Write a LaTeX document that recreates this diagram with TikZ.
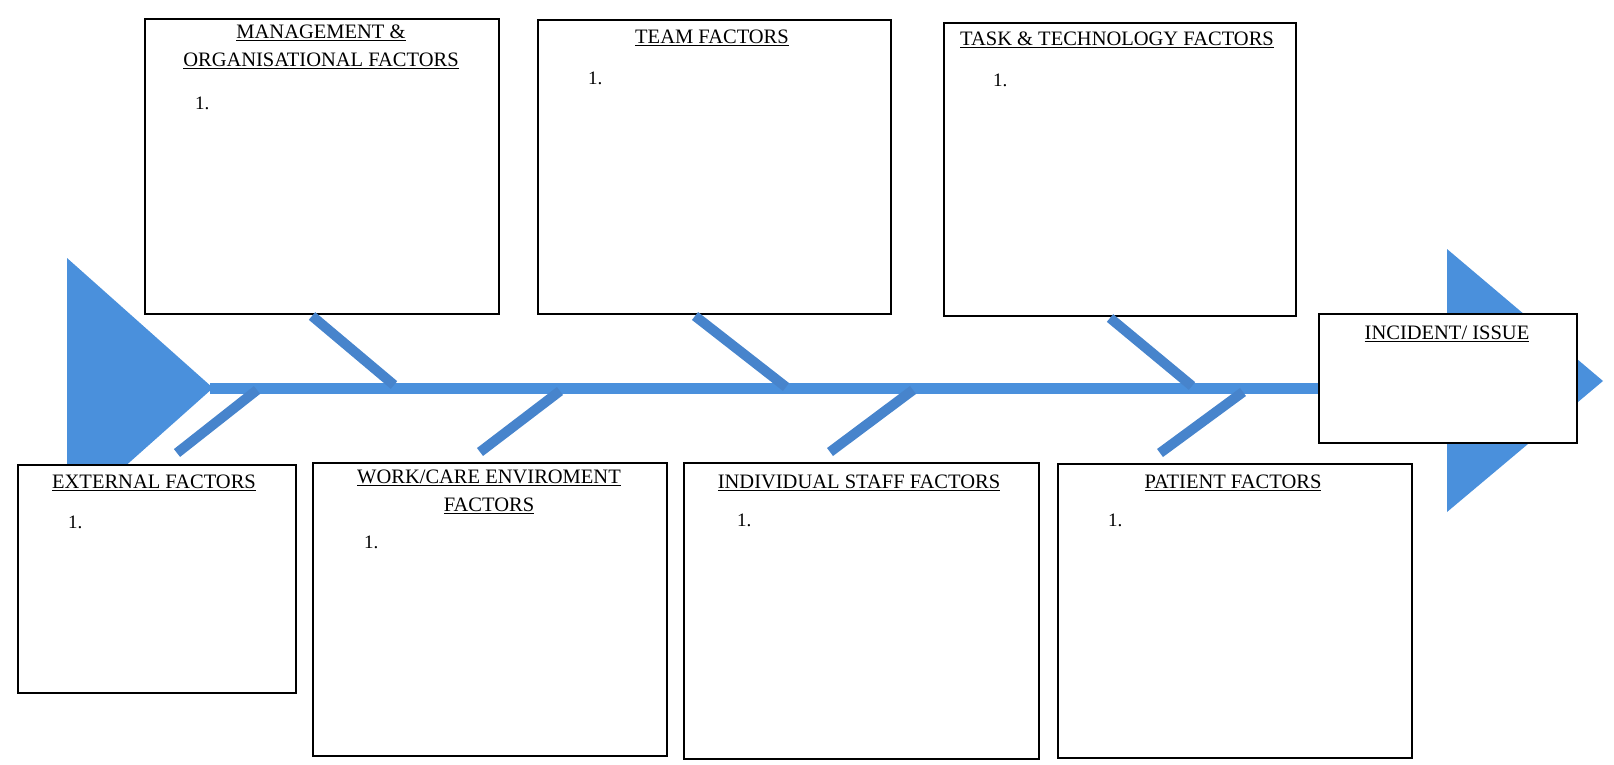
\documentclass[tikz,border=0pt]{standalone}
\usepackage{fontspec}
\setmainfont{Liberation Serif}
\usetikzlibrary{positioning,calc}
\definecolor{fishblue}{HTML}{4A90DC}
\definecolor{boneblue}{HTML}{4784CC}
\tikzset{
  factor/.style={draw=black, line width=2pt, fill=white, anchor=north west, inner sep=0pt},
  heading/.style={font=\fontsize{20.5}{28}\selectfont, align=center, inner sep=0pt},
  item/.style={font=\fontsize{19}{22}\selectfont, anchor=west, inner sep=0pt},
  bone/.style={draw=boneblue, line width=10pt},
  spine/.style={draw=fishblue, line width=11pt},
}

\begin{document}
\begin{tikzpicture}[x=1pt,y=-1pt]
  \useasboundingbox (0,0) rectangle (1614,765);

  % tail and head of the fish
  \fill[fishblue] (67,258) -- (213,388) -- (67,518) -- cycle;
  \fill[fishblue] (1447,249) -- (1603,381) -- (1447,512) -- cycle;
  \coordinate (tail) at (210,388);

  % factor boxes
  \node[factor, minimum width=354pt, minimum height=295pt] (mgmt) at (144,18) {};
  \node[factor, minimum width=353pt, minimum height=294pt] (team) at (537,19) {};
  \node[factor, minimum width=352pt, minimum height=293pt] (task) at (943,22) {};
  \node[factor, minimum width=278pt, minimum height=228pt] (ext) at (17,464) {};
  \node[factor, minimum width=354pt, minimum height=293pt] (work) at (312,462) {};
  \node[factor, minimum width=355pt, minimum height=296pt] (indiv) at (683,462) {};
  \node[factor, minimum width=354pt, minimum height=294pt] (pat) at (1057,463) {};
  \node[factor, minimum width=258pt, minimum height=129pt] (inc) at (1318,313) {};

  % spine and bones
  \draw[spine] (tail) -- (tail -| inc.west);
  \coordinate (mgmtend) at (394,385);
  \coordinate (teamend) at (786,387);
  \coordinate (taskend) at (1192,386);
  \coordinate (extend) at (257,390);
  \coordinate (workend) at (560,391);
  \coordinate (indivend) at (913,390);
  \coordinate (patend) at (1243,392);
  \draw[bone] ($(mgmt.south west)+(168,1)$) -- (mgmtend);
  \draw[bone] ($(team.south west)+(158,1)$) -- (teamend);
  \draw[bone] ($(task.south west)+(167,1)$) -- (taskend);
  \draw[bone] ($(ext.north west)+(160,-11)$) -- (extend);
  \draw[bone] ($(work.north west)+(168,-10)$) -- (workend);
  \draw[bone] ($(indiv.north west)+(147,-10)$) -- (indivend);
  \draw[bone] ($(pat.north west)+(103,-10)$) -- (patend);

  % headings
  \node[heading] (mgmttitle) at (321,47) {\underline{MANAGEMENT \&}\\\underline{ORGANISATIONAL FACTORS}};
  \node[heading] (teamtitle) at (712,38) {\underline{TEAM FACTORS}};
  \node[heading] (tasktitle) at (1117,40) {\underline{TASK \& TECHNOLOGY FACTORS}};
  \node[heading] (exttitle) at (154,483) {\underline{EXTERNAL FACTORS}};
  \node[heading] (worktitle) at (489,492) {\underline{WORK/CARE ENVIROMENT}\\\underline{FACTORS}};
  \node[heading] (indivtitle) at (859,483) {\underline{INDIVIDUAL STAFF FACTORS}};
  \node[heading] (pattitle) at (1233,483) {\underline{PATIENT FACTORS}};
  \node[heading] (inctitle) at (1447,334) {\underline{INCIDENT/ ISSUE}};

  \node[item] (mgmtone) at (195,103) {1.};
  \node[item] (teamone) at (588,78) {1.};
  \node[item] (taskone) at (993,80) {1.};
  \node[item] (extone) at (68,522) {1.};
  \node[item] (workone) at (364,542) {1.};
  \node[item] (indivone) at (737,520) {1.};
  \node[item] (patone) at (1108,520) {1.};
\end{tikzpicture}
\end{document}
